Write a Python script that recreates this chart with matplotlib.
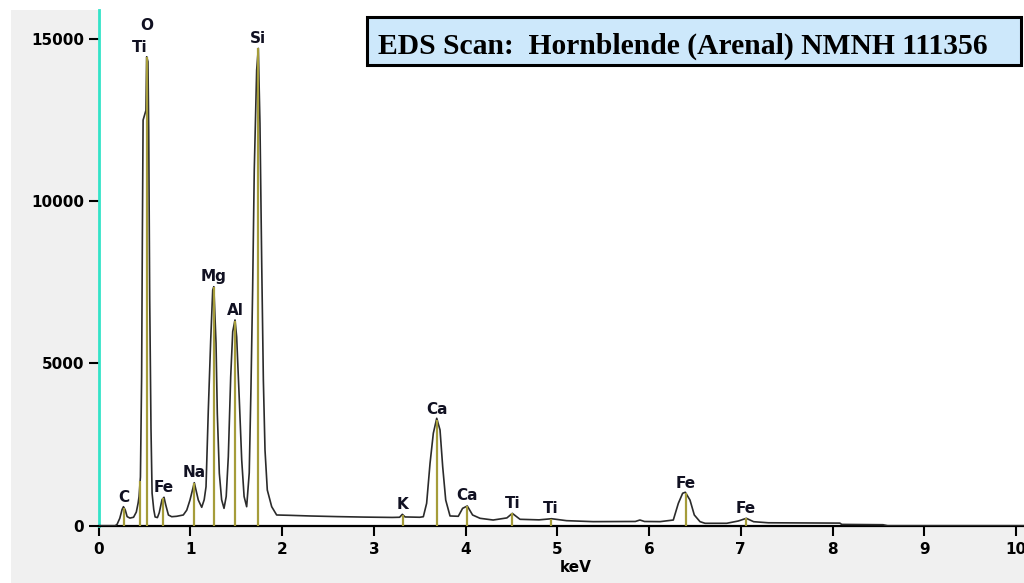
import numpy as np
import matplotlib
matplotlib.use("Agg")
import matplotlib.pyplot as plt
from matplotlib.patches import Rectangle

# spectrum (keV, counts)
energy = [0.00, 0.18, 0.20, 0.23, 0.255, 0.27, 0.29, 0.31, 0.34, 0.38, 0.41, 0.43,
          0.44, 0.455, 0.468, 0.476, 0.484, 0.515, 0.523, 0.537, 0.545, 0.556, 0.570,
          0.582, 0.600, 0.615, 0.64, 0.66, 0.69, 0.712, 0.73, 0.76, 0.796, 0.85,
          0.922, 0.96, 0.995, 1.042, 1.086, 1.123, 1.150, 1.170, 1.195, 1.221, 1.243,
          1.255, 1.279, 1.293, 1.315, 1.340, 1.366, 1.390, 1.413, 1.439, 1.461, 1.486,
          1.504, 1.533, 1.559, 1.585, 1.613, 1.641, 1.660, 1.678, 1.696, 1.722, 1.740,
          1.758, 1.777, 1.795, 1.813, 1.838, 1.886, 1.94, 2.08, 2.3, 2.6, 2.9, 3.2,
          3.28, 3.31, 3.34, 3.50, 3.539, 3.575, 3.612, 3.648, 3.685, 3.721, 3.750,
          3.783, 3.83, 3.92, 3.967, 4.018, 4.076, 4.157, 4.30, 4.45, 4.509, 4.593,
          4.80, 4.938, 5.10, 5.39, 5.85, 5.90, 5.95, 6.12, 6.264, 6.319, 6.366, 6.395,
          6.446, 6.493, 6.555, 6.61, 6.846, 6.973, 7.06, 7.14, 7.30, 8.08, 8.10, 8.55,
          8.60, 10.1]
counts = [0, 0, 40, 230, 500, 585, 480, 280, 235, 260, 420, 700,
          900, 1500, 4600, 8900, 12500, 12800, 14450, 14300, 12200, 7000, 3000,
          1000, 500, 270, 250, 400, 800, 875, 650, 330, 277, 290,
          330, 480, 790, 1325, 790, 567, 800, 1200, 3570, 5720, 7260,
          7365, 5620, 3460, 1615, 800, 535, 900, 2125, 4590, 5980, 6340,
          5820, 3870, 2025, 900, 585, 1625, 4240, 7260, 10960, 14040, 14710,
          12400, 8090, 4490, 2330, 1100, 585, 330, 320, 300, 280, 265, 255,
          260, 350, 270, 260, 277, 690, 1920, 2850, 3310, 2950, 1820,
          790, 300, 290, 535, 607, 330, 228, 175, 240, 380, 197,
          180, 215, 155, 125, 130, 175, 130, 125, 175, 690, 1000, 1030,
          790, 330, 125, 74, 74, 145, 228, 123, 90, 80, 40, 30,
          0, 0]

# identified lines
line_sym = ["C", "Ti", "O", "Fe", "Na", "Mg", "Al", "Si", "K", "Ca", "Ca", "Ti", "Ti", "Fe", "Fe"]
line_kev = [0.277, 0.452, 0.525, 0.705, 1.041, 1.254, 1.487, 1.740, 3.313, 3.691, 4.012,
            4.510, 4.931, 6.403, 7.057]

title = "EDS Scan:  Hornblende (Arenal) NMNH 111356"

W, H = 1024, 583
fig = plt.figure(figsize=(W / 100, H / 100), dpi=100)
fig.patch.set_facecolor("white")
fig.add_artist(Rectangle((11 / W, 0), 1, (H - 10) / H, transform=fig.transFigure,
                         facecolor="#f0f0f0", edgecolor="none", zorder=-5))

x0 = 98.7
ax = fig.add_axes([x0 / W, (H - 525.7) / H, 1 - x0 / W, 515.7 / H])
ax.set_facecolor("white")
ax.set_xlim(0, (W - x0) / 91.73)
ax.set_ylim(0, 515.7 / 0.03245)

ax.plot(energy, counts, color="#2b2b2b", lw=1.2, zorder=3)

heights = np.interp(line_kev, energy, counts)
ax.vlines(line_kev, 0, heights, color="#a59c3a", lw=1.6, zorder=4)

for i, (sym, e, h) in enumerate(zip(line_sym, line_kev, heights)):
    # lines close together share a label stack above the taller peak
    group = [j for j in range(len(line_kev)) if abs(line_kev[j] - e) < 0.1]
    top = max(heights[j] for j in group)
    k = sorted(group, key=lambda j: heights[j]).index(i)
    ax.annotate(sym, (e, top), xytext=(0, 2 + 15.5 * k), textcoords="offset points",
                ha="center", va="bottom", fontsize=11, fontweight="bold",
                color="#111122", zorder=5, annotation_clip=False)

for s in ["top", "right"]:
    ax.spines[s].set_visible(False)
ax.spines["left"].set_color("#33e3c8")
ax.spines["left"].set_linewidth(2)
ax.spines["bottom"].set_color("black")
ax.spines["bottom"].set_linewidth(1.6)

ax.set_xticks(range(0, 11))
ax.set_yticks([0, 5000, 10000, 15000])
ax.tick_params(axis="x", length=7, width=1.5, pad=5, labelsize=11)
ax.tick_params(axis="y", length=7, width=1.5, pad=3.5, labelsize=11)
for lab in ax.get_xticklabels() + ax.get_yticklabels():
    lab.set_fontweight("bold")
ax.set_xlabel("keV", fontsize=11, fontweight="bold", x=0.515, labelpad=2)

fig.add_artist(Rectangle((367 / W, (H - 65) / H), (1021 - 367) / W, 48 / H,
                         transform=fig.transFigure, facecolor="#cde8fb",
                         edgecolor="black", lw=2.2, zorder=10))
fig.text(378 / W, (H - 53.5) / H, title, family="Liberation Serif", fontweight="bold",
         fontsize=21.3, va="baseline", ha="left", zorder=11)

fig.savefig("out.png", dpi=100)
